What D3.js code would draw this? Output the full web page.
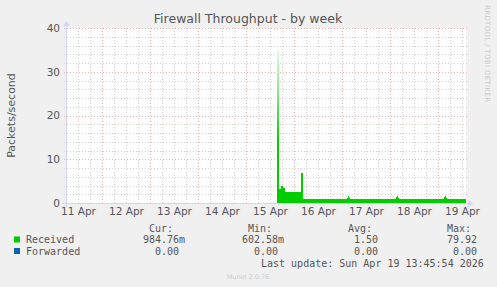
<!DOCTYPE html>
<html>
<head>
<meta charset="utf-8">
<script src="https://cdn.jsdelivr.net/npm/d3@7"></script>
<style>
  body { margin: 0; background: #f0f0f0; }
  svg { display: block; }
  text { font-family: "DejaVu Sans", sans-serif; fill: #555; }
  .mono { font-family: "DejaVu Sans Mono", monospace; white-space: pre; }
</style>
</head>
<body>
<svg id="chart" width="497" height="287"></svg>
<script>
'use strict';

// received packets/second, step values starting at each time (week view)
var recvTimes = [
  '2026-04-15 15:30', '2026-04-15 16:30', '2026-04-15 17:30', '2026-04-15 18:30',
  '2026-04-15 19:30', '2026-04-16 03:30', '2026-04-16 04:30',
  '2026-04-17 02:30', '2026-04-17 03:00', '2026-04-17 03:30', '2026-04-17 04:00',
  '2026-04-18 03:00', '2026-04-18 03:30', '2026-04-18 04:00', '2026-04-18 04:30',
  '2026-04-19 03:00', '2026-04-19 03:30', '2026-04-19 04:00', '2026-04-19 04:30',
  '2026-04-19 14:00'
];
var recvValues = [
  35, 3.2, 3.8, 3.4,
  2.5, 6.8, 1.0,
  1.2, 1.5, 1.2, 1.0,
  1.3, 1.7, 1.2, 1.0,
  1.3, 1.7, 1.2, 1.0,
  0.98
];
// forwarded stays at zero for the whole week
var fwdValues = recvValues.map(function () { return 0; });

var yTicks = [0, 10, 20, 30, 40];
var legendNames = ['Received', 'Forwarded'];
var legendColors = ['#00cc00', '#0066b3'];
var statHeads = ['Cur:', 'Min:', 'Avg:', 'Max:'];
var statRecv = ['984.76m', '602.58m', '  1.50 ', ' 79.92 '];
var statFwd = ['  0.00 ', '  0.00 ', '  0.00 ', '  0.00 '];

var parseTime = d3.utcParse('%Y-%m-%d %H:%M');
var start = parseTime('2026-04-11 06:00');
var end = parseTime('2026-04-19 14:00');

var svg = d3.select('#chart');
var pLeft = 66, pRight = 466, pTop = 28, pBottom = 203;

var x = d3.scaleUtc().domain([start, end]).range([pLeft, pRight]);
var y = d3.scaleLinear().domain([0, 40]).range([pBottom, pTop]);

// plot background
svg.append('rect')
  .attr('x', pLeft).attr('y', pTop)
  .attr('width', pRight - pLeft).attr('height', pBottom - pTop)
  .attr('fill', '#fff');

// minor grid
var minorY = d3.range(0, 41, 2).filter(function (d) { return d % 10 !== 0; });
var minorX = d3.utcHour.every(6).range(start, end).filter(function (d) { return d.getUTCHours() !== 0; });
var grid = svg.append('g').attr('stroke', '#d0d0d0').attr('stroke-width', 1)
  .attr('stroke-dasharray', '1,2').attr('shape-rendering', 'crispEdges');
grid.selectAll('.hy').data(minorY).enter().append('line')
  .attr('x1', pLeft - 2).attr('x2', pRight + 2)
  .attr('y1', function (d) { return Math.round(y(d)) + 0.5; })
  .attr('y2', function (d) { return Math.round(y(d)) + 0.5; });
grid.selectAll('.vx').data(minorX).enter().append('line')
  .attr('y1', pTop).attr('y2', pBottom + 2)
  .attr('x1', function (d) { return Math.round(x(d)) + 0.5; })
  .attr('x2', function (d) { return Math.round(x(d)) + 0.5; });

// major grid
var majorX = d3.utcDay.range(start, end);
var major = svg.append('g').attr('stroke', '#f0b0b0').attr('stroke-width', 1)
  .attr('stroke-dasharray', '1,2').attr('shape-rendering', 'crispEdges');
major.selectAll('.hy').data(yTicks).enter().append('line')
  .attr('x1', pLeft - 2).attr('x2', pRight + 2)
  .attr('y1', function (d) { return Math.round(y(d)) + 0.5; })
  .attr('y2', function (d) { return Math.round(y(d)) + 0.5; });
major.selectAll('.vx').data(majorX).enter().append('line')
  .attr('y1', pTop).attr('y2', pBottom + 2)
  .attr('x1', function (d) { return Math.round(x(d)) + 0.5; })
  .attr('x2', function (d) { return Math.round(x(d)) + 0.5; });

// data
var recv = recvTimes.map(function (t, i) { return { t: parseTime(t), v: recvValues[i] }; });
var fwd = recvTimes.map(function (t, i) { return { t: parseTime(t), v: fwdValues[i] }; });

// thin spikes fade out towards their tops
var grad = svg.append('defs').append('linearGradient')
  .attr('id', 'recvFill').attr('gradientUnits', 'userSpaceOnUse')
  .attr('x1', 0).attr('x2', 0).attr('y1', y(0)).attr('y2', y(36));
grad.append('stop').attr('offset', '0').attr('stop-color', legendColors[0]);
grad.append('stop').attr('offset', '0.4').attr('stop-color', legendColors[0]);
grad.append('stop').attr('offset', '0.7').attr('stop-color', '#8ae68a');
grad.append('stop').attr('offset', '1').attr('stop-color', '#eefbee');

var area = d3.area()
  .curve(d3.curveStepAfter)
  .x(function (d) { return x(d.t); })
  .y0(y(0))
  .y1(function (d) { return y(d.v); });

svg.append('path').datum(recv)
  .attr('d', area)
  .attr('shape-rendering', 'crispEdges')
  .attr('fill', 'url(#recvFill)');

svg.append('path').datum(fwd)
  .attr('d', d3.line().curve(d3.curveStepAfter)
    .x(function (d) { return x(d.t); })
    .y(function (d) { return y(d.v); }))
  .attr('fill', 'none')
  .attr('stroke', legendColors[1])
  .attr('stroke-width', 0);

// axes lines with arrows
var axisColor = '#cfd6f8';
svg.append('line')
  .attr('x1', pLeft - 4).attr('x2', pRight + 3)
  .attr('y1', pBottom + 0.5).attr('y2', pBottom + 0.5)
  .attr('stroke', axisColor);
svg.append('line')
  .attr('x1', pLeft + 0.5).attr('x2', pLeft + 0.5)
  .attr('y1', pBottom + 4).attr('y2', pTop - 3)
  .attr('stroke', axisColor);
svg.append('path')
  .attr('d', 'M' + (pRight + 2) + ',' + (pBottom - 3) + 'L' + (pRight + 7) + ',' + (pBottom + 0.5) + 'L' + (pRight + 2) + ',' + (pBottom + 4) + 'Z')
  .attr('fill', axisColor);
svg.append('path')
  .attr('d', 'M' + (pLeft - 3) + ',' + (pTop - 2) + 'L' + (pLeft + 0.5) + ',' + (pTop - 7) + 'L' + (pLeft + 4) + ',' + (pTop - 2) + 'Z')
  .attr('fill', axisColor);

// tick labels
var yAxis = svg.append('g')
  .attr('transform', 'translate(' + pLeft + ',0)')
  .call(d3.axisLeft(y).tickValues(yTicks).tickSize(0).tickPadding(6));
var labelDays = d3.utcDay.range(d3.utcDay.floor(start), end).map(function (d) { return d3.utcHour.offset(d, 12); });
var xAxis = svg.append('g')
  .attr('transform', 'translate(0,' + pBottom + ')')
  .call(d3.axisBottom(x).tickValues(labelDays).tickSize(0).tickPadding(5)
    .tickFormat(d3.utcFormat('%d %b')));
[yAxis, xAxis].forEach(function (g) {
  g.select('.domain').remove();
  g.selectAll('text').attr('fill', '#555')
    .style('font-family', '"DejaVu Sans", sans-serif').style('font-size', '10.5px');
});

// title & axis label
svg.append('text')
  .attr('x', 248).attr('y', 23)
  .attr('text-anchor', 'middle')
  .style('font-size', '12.5px')
  .text('Firewall Throughput - by week');

svg.append('text')
  .attr('transform', 'translate(14.5,115.5) rotate(-90)')
  .attr('text-anchor', 'middle')
  .style('font-size', '11px')
  .text('Packets/second');

svg.append('text')
  .attr('transform', 'translate(485,5) rotate(90)')
  .attr('text-anchor', 'start')
  .attr('textLength', 97)
  .attr('lengthAdjust', 'spacing')
  .style('font-size', '7px')
  .style('fill', '#cccccc')
  .text('RRDTOOL / TOBI OETIKER');

// legend
var headX = [149, 248, 348, 447];
var colX = [143, 242, 342, 441];
var legend = svg.append('g').style('font-size', '10px');
legend.selectAll('.head').data(statHeads).enter().append('text')
  .attr('class', 'mono')
  .attr('x', function (d, i) { return headX[i]; })
  .attr('y', 231.5)
  .text(function (d) { return d; });

[statRecv, statFwd].forEach(function (row, r) {
  var yy = 243 + r * 11.5;
  legend.append('rect')
    .attr('x', 14).attr('y', yy - 6.5)
    .attr('width', 6).attr('height', 6)
    .attr('fill', legendColors[r]);
  legend.append('text').attr('class', 'mono')
    .attr('x', 26).attr('y', yy)
    .text(legendNames[r]);
  legend.selectAll('.v' + r).data(row).enter().append('text')
    .attr('class', 'mono')
    .attr('x', function (d, i) { return colX[i]; })
    .attr('y', yy)
    .text(function (d) { return d; });
});

legend.append('text').attr('class', 'mono')
  .attr('x', 261).attr('y', 267)
  .text('Last update: Sun Apr 19 13:45:54 2026');

svg.append('text')
  .attr('x', 248).attr('y', 279)
  .attr('text-anchor', 'middle')
  .style('font-size', '6.5px')
  .style('fill', '#cccccc')
  .text('Munin 2.0.76');
</script>
</body>
</html>
